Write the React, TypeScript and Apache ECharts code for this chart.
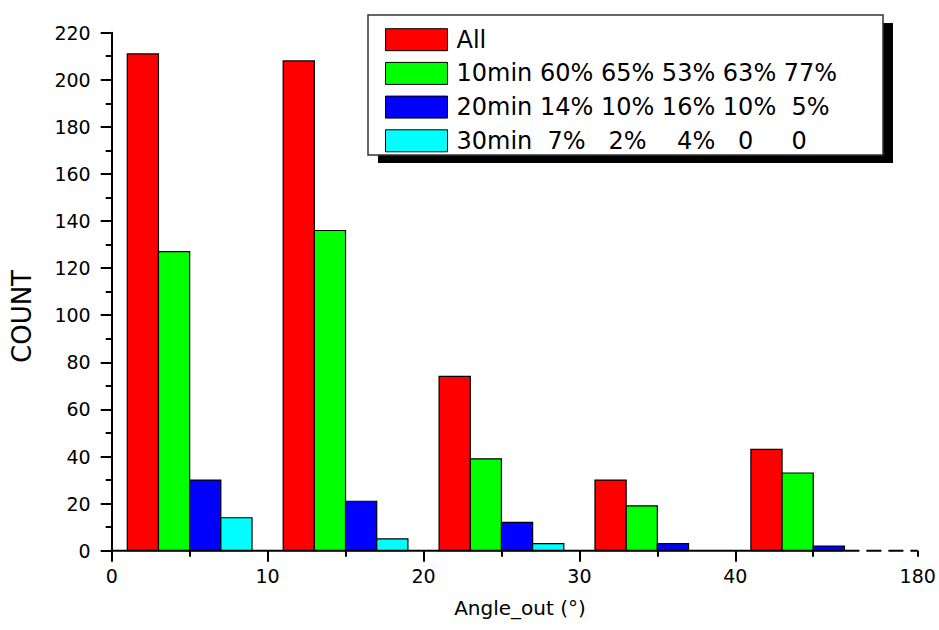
import React, { useEffect, useRef } from "react";
import * as echarts from "echarts";

// ---- data ----
const GROUP_STARTS = [0, 10, 20, 30, 40];
const SERIES_NAMES = [
  "All",
  "10min 60% 65% 53% 63% 77%",
  "20min 14% 10% 16% 10%  5%",
  "30min  7%   2%    4%   0     0",
];
const SERIES_OFFSETS = [2, 4, 6, 8]; // bin centre within each group
const BAR_WIDTH = 2;
const ALL_VALUES = [211, 208, 74, 30, 43];
const MIN10_VALUES = [127, 136, 39, 19, 33];
const MIN20_VALUES = [30, 21, 12, 3, 2];
const MIN30_VALUES = [14, 5, 3, 0, 0];
const SERIES_VALUES = [ALL_VALUES, MIN10_VALUES, MIN20_VALUES, MIN30_VALUES];
const COLORS = ["#ff0000", "#00ff00", "#0000ff", "#00ffff"];

const X_MAJOR_TICKS = [0, 10, 20, 30, 40];
const X_MINOR_TICKS = [5, 15, 25, 35, 45];
const AXIS_BREAK = 47;
const AXIS_END = 51.7;
const AXIS_END_LABEL = "180";

const FONT = "DejaVu Sans";

export default function App() {
  const ref = useRef<HTMLDivElement>(null);
  useEffect(() => {
    if (!ref.current) return;
    const chart = echarts.init(ref.current, undefined, { renderer: "svg" });

    const barSeries = SERIES_NAMES.map((name, si) => ({
      name,
      type: "custom",
      xAxisIndex: 0,
      yAxisIndex: 0,
      z: 3,
      itemStyle: { color: COLORS[si], borderColor: "#000", borderWidth: 1 },
      data: GROUP_STARTS.map((g, gi) => [g + SERIES_OFFSETS[si], SERIES_VALUES[si][gi]]),
      renderItem: (params: any, api: any) => {
        const x = api.value(0);
        const v = api.value(1);
        if (!v) return null;
        const p0 = api.coord([x - BAR_WIDTH / 2, v]);
        const p1 = api.coord([x + BAR_WIDTH / 2, 0]);
        return {
          type: "rect",
          shape: { x: p0[0], y: p0[1], width: p1[0] - p0[0], height: p1[1] - p0[1] },
          style: { fill: COLORS[si], stroke: "#000", lineWidth: 1.2 },
        };
      },
    }));

    const option: any = {
      animation: false,
      backgroundColor: "#fff",
      grid: { left: 111.7, top: 32.7, right: 21.3, bottom: 79.3, containLabel: false },
      xAxis: [
        {
          type: "value",
          min: 0,
          max: AXIS_END,
          axisLine: { show: false },
          splitLine: { show: false },
          axisTick: {
            show: true,
            customValues: X_MAJOR_TICKS,
            length: 11,
            lineStyle: { color: "#000", width: 2 },
          },
          axisLabel: {
            show: true,
            customValues: [...X_MAJOR_TICKS, AXIS_END],
            formatter: (v: number) => (Math.abs(v - AXIS_END) < 1e-6 ? AXIS_END_LABEL : String(v)),
            margin: 16,
            fontSize: 19,
            fontFamily: FONT,
            color: "#000",
            showMaxLabel: true,
            showMinLabel: true,
          },
        },
        {
          type: "value",
          min: 0,
          max: AXIS_END,
          position: "bottom",
          axisLine: { show: false },
          splitLine: { show: false },
          axisLabel: { show: false },
          axisTick: {
            show: true,
            customValues: [...X_MINOR_TICKS, AXIS_END],
            length: 6,
            lineStyle: { color: "#000", width: 2 },
          },
        },
      ],
      yAxis: {
        type: "value",
        min: 0,
        max: 220,
        interval: 20,
        axisLine: { show: true, lineStyle: { color: "#000", width: 2 } },
        axisTick: { show: true, length: 11, lineStyle: { color: "#000", width: 2 } },
        minorTick: { show: true, splitNumber: 2, length: 6, lineStyle: { color: "#000", width: 2 } },
        splitLine: { show: false },
        minorSplitLine: { show: false },
        axisLabel: { margin: 21, fontSize: 19, fontFamily: FONT, color: "#000" },
      },
      legend: {
        orient: "vertical",
        left: 385,
        top: 27.7,
        padding: 0,
        itemWidth: 62,
        itemHeight: 22,
        itemGap: 9.7,
        selectedMode: false,
        icon: "rect",
        textStyle: { fontSize: 24, fontFamily: FONT, color: "#000", padding: [0, 0, 0, 4] },
        data: SERIES_NAMES.map((name, i) => ({
          name,
          itemStyle: { color: COLORS[i], borderColor: "#000", borderWidth: 1 },
        })),
      },
      graphic: [
        { type: "rect", z: 0, shape: { x: 378, y: 23, width: 515, height: 140 }, style: { fill: "#000" } },
        {
          type: "rect",
          z: 1,
          shape: { x: 368, y: 15, width: 515, height: 140 },
          style: { fill: "#fff", stroke: "#333", lineWidth: 1.5 },
        },
        {
          type: "text",
          x: 21.5,
          y: 316.5,
          rotation: Math.PI / 2,
          style: {
            text: "COUNT",
            fontSize: 26,
            fontFamily: FONT,
            fill: "#000",
            align: "center",
            verticalAlign: "middle",
            textAlign: "center",
            textVerticalAlign: "middle",
          },
        },
        {
          type: "text",
          x: 520,
          y: 608,
          style: {
            text: "Angle_out (°)",
            fontSize: 20,
            fontFamily: FONT,
            fill: "#000",
            align: "center",
            verticalAlign: "middle",
            textAlign: "center",
            textVerticalAlign: "middle",
          },
        },
      ],
      series: [
        ...barSeries,
        {
          name: "axis-solid",
          type: "line",
          xAxisIndex: 0,
          yAxisIndex: 0,
          symbol: "none",
          clip: false,
          silent: true,
          z: 5,
          lineStyle: { color: "#000", width: 2 },
          data: [
            [0, 0],
            [AXIS_BREAK, 0],
          ],
        },
        {
          name: "axis-dashed",
          type: "line",
          xAxisIndex: 0,
          yAxisIndex: 0,
          symbol: "none",
          clip: false,
          silent: true,
          z: 5,
          lineStyle: { color: "#000", width: 2, type: [15, 7] },
          data: [
            [AXIS_BREAK, 0],
            [AXIS_END, 0],
          ],
        },
      ],
    };
    chart.setOption(option);
    return () => chart.dispose();
  }, []);
  return (
    <div
      ref={ref}
      style={{ position: "absolute", left: 0, top: 0, width: 939, height: 630 }}
    />
  );
}
